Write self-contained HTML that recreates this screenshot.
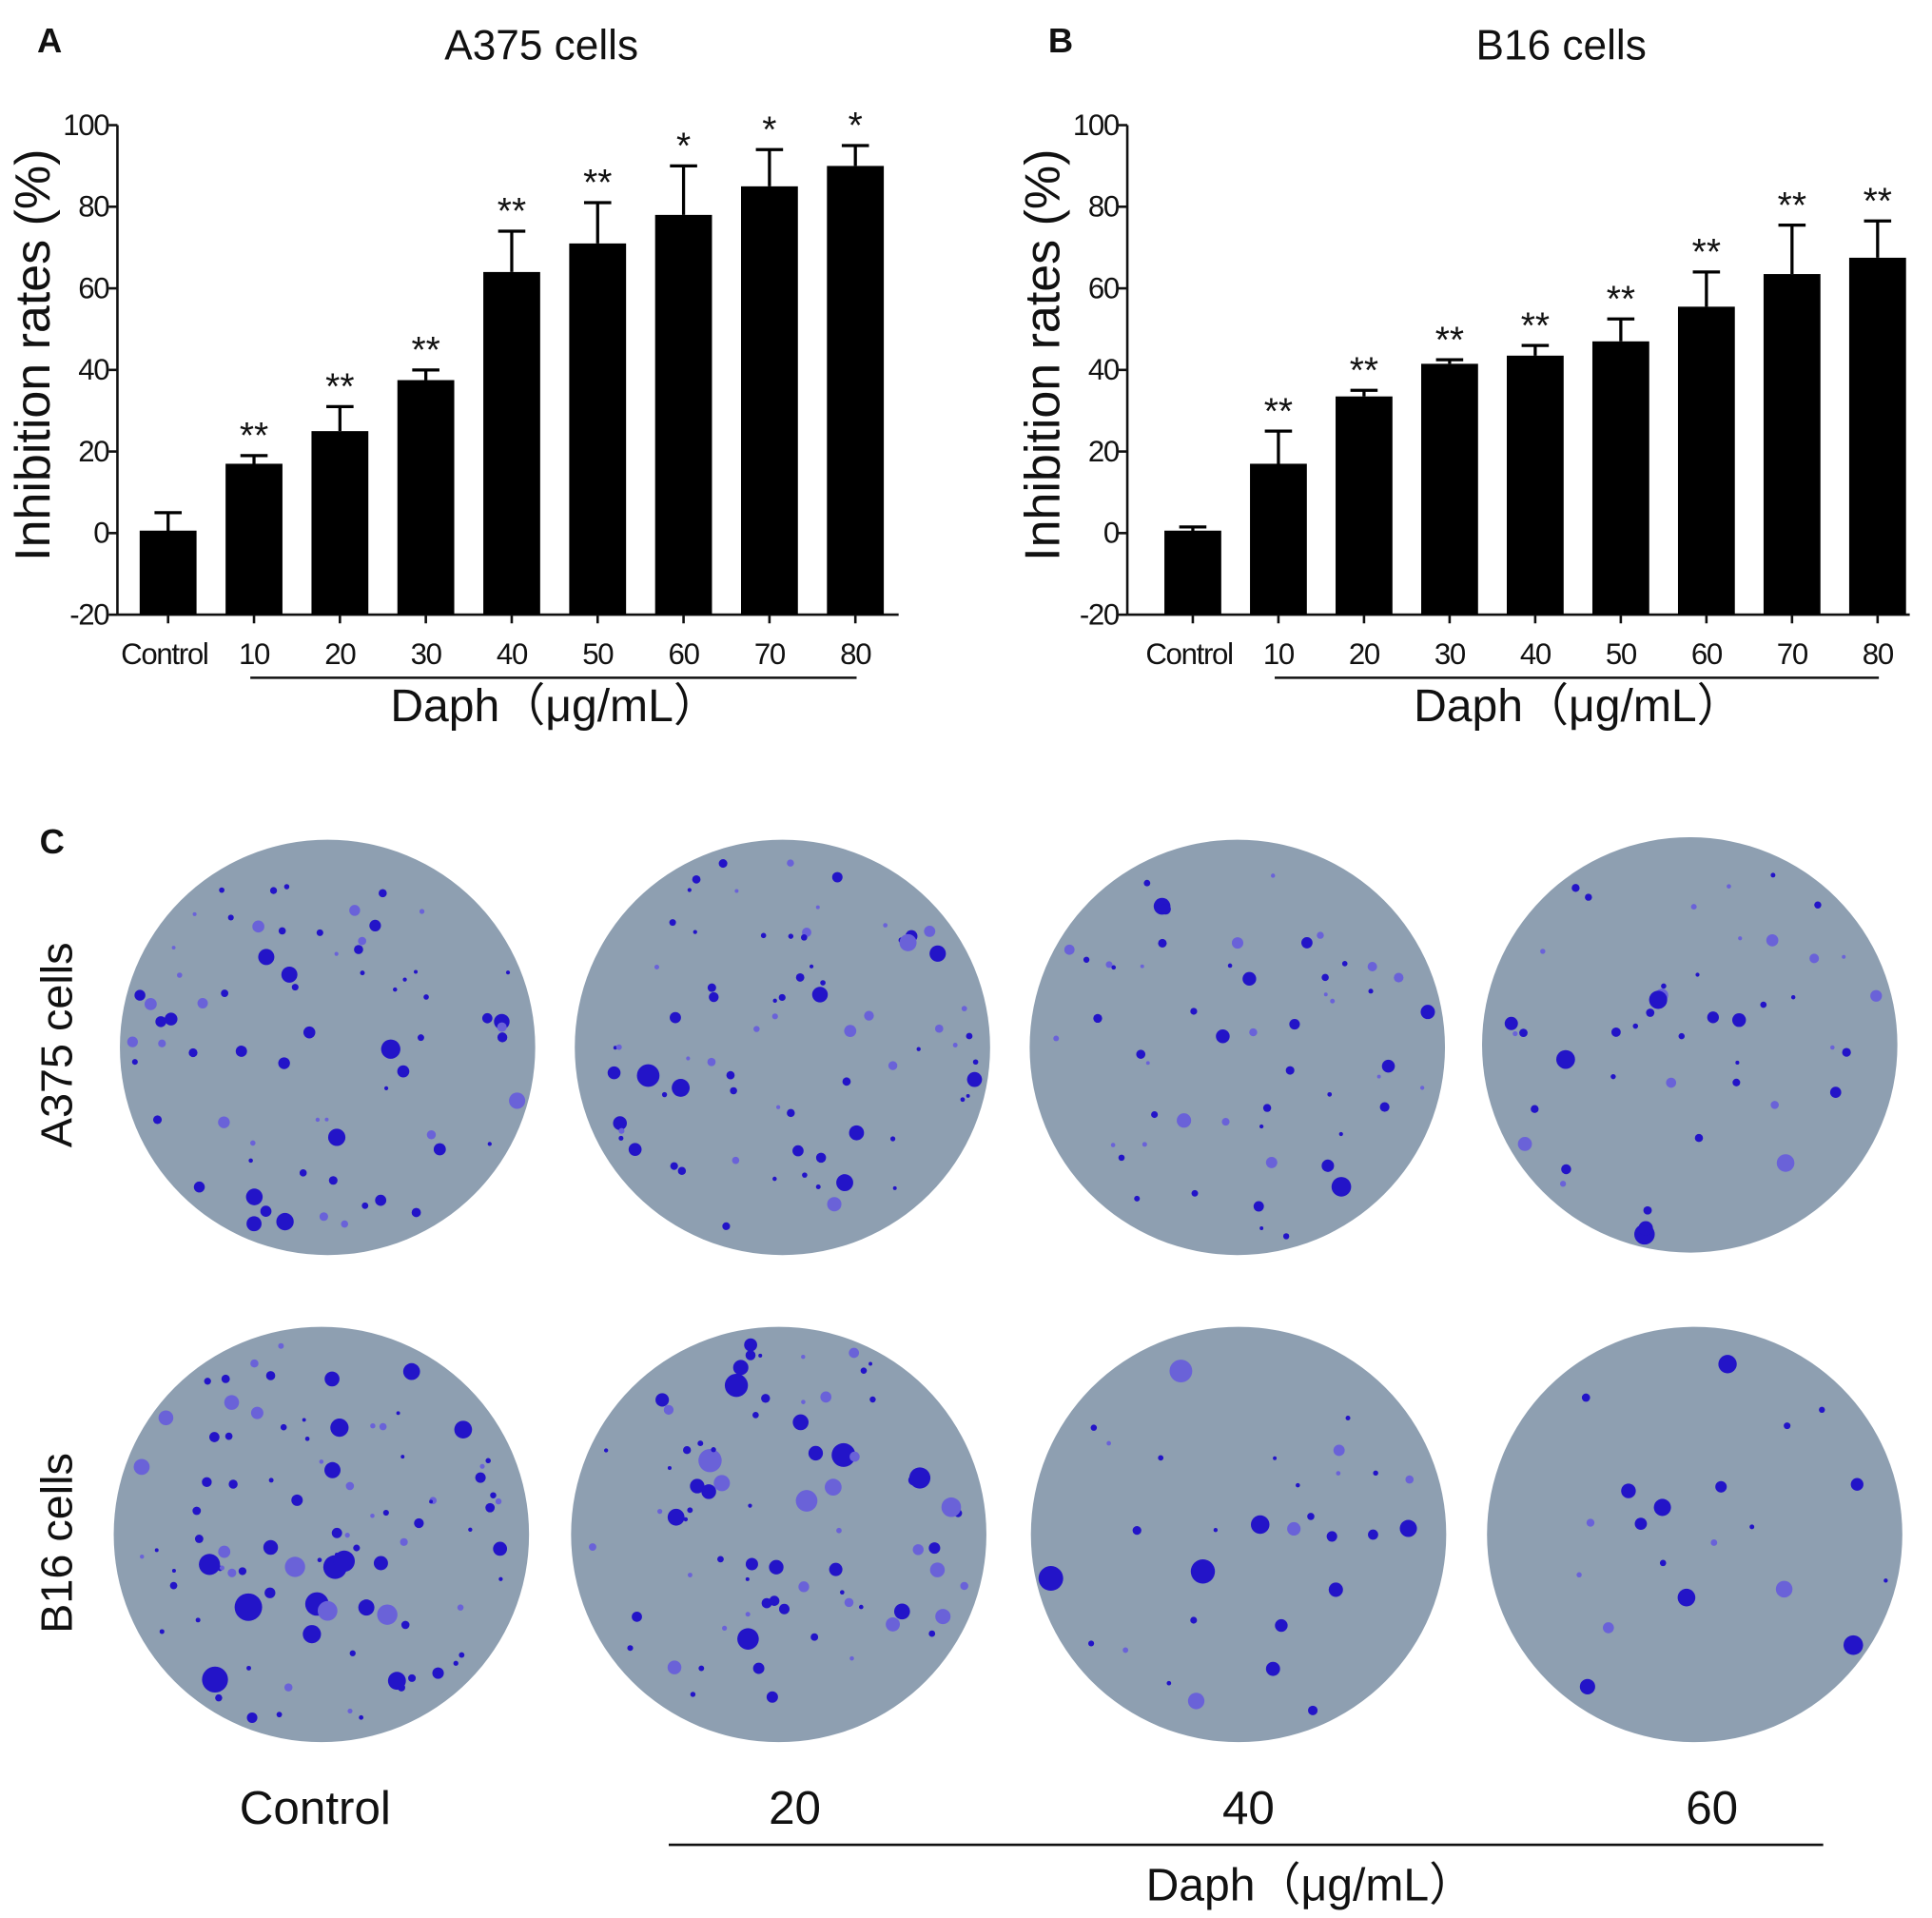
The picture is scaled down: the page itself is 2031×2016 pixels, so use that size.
<!DOCTYPE html>
<html><head><meta charset="utf-8"><style>
html,body{margin:0;padding:0;background:#fff}
svg{display:block}
text{font-family:"Liberation Sans","Noto Sans CJK SC",sans-serif;fill:#111}
</style></head><body>
<svg id="fig" width="2031" height="2016" viewBox="0 0 1563 1551">
<g id="gA"></g>
<g id="gB"></g>
<g id="gC"></g>
</svg>
<script>
const categories = ["Control","10","20","30","40","50","60","70","80"];
const a375Values = [0,17,25,37.5,64,71,78,85,90];
const a375ErrTop = [5,19,31,40,74,81,90,94,95];
const a375Stars = ["","**","**","**","**","**","*","*","*"];
const b16Values = [0,17,33.5,41.5,43.5,47,55.5,63.5,67.5];
const b16ErrTop = [1.5,25,35,42.5,46,52.5,64,75.5,76.5];
const b16Stars = ["","**","**","**","**","**","**","**","**"];
const yTicks = [-20,0,20,40,60,80,100];
const dishLabels = ["Control","20","40","60"];
const colonyCounts = [[70,75,55,45],[95,75,30,20]];

const NS="http://www.w3.org/2000/svg";
function mk(parent,tag,attrs,txt){const e=document.createElementNS(NS,tag);for(const k in attrs)e.setAttribute(k,attrs[k]);if(txt!==undefined)e.textContent=txt;parent.appendChild(e);return e;}

function drawChart(gid,x0,x1,firstCenter,step,vals,errs,stars,title,letter,letterX,titleX){
  const g=document.getElementById(gid);
  const yTop=101,yBot=497;
  const y=v=>yBot-(v+20)/120*(yBot-yTop);
  const x=i=>firstCenter+i*step;
  let t=mk(g,'text',{x:letterX,y:42,'font-size':28,'font-weight':'bold'},letter);
  
  t=mk(g,'text',{x:titleX,y:48,'font-size':34,'text-anchor':'middle'},title);
  
  t=mk(g,'text',{x:0,y:0,'font-size':40,'text-anchor':'middle',transform:`translate(${x0-55},${yTop+186}) rotate(-90)`},'Inhibition rates (%)');
  
  let l=mk(g,'line',{x1:x0,y1:yTop,x2:x0,y2:yBot,stroke:'#111','stroke-width':2});
  
  l=mk(g,'line',{x1:x0,y1:yBot,x2:x1,y2:yBot,stroke:'#111','stroke-width':2});
  
  yTicks.forEach(v=>{
    mk(g,'line',{x1:x0-7,y1:y(v),x2:x0,y2:y(v),stroke:'#111','stroke-width':2});
    const tt=mk(g,'text',{x:x0-7,y:y(v)+8,'font-size':24,'text-anchor':'end','letter-spacing':'-1'},String(v));
    
  });
  vals.forEach((v,i)=>{
    const cx=x(i),w=46;
    const top=Math.min(y(v),y(0));
    const b=mk(g,'rect',{x:cx-w/2,y:v===0?y(0)-2:top,width:w,height:v===0?yBot-y(0)+2:yBot-top,fill:'#000'});
    
    const e=mk(g,'path',{d:`M${cx},${y(v)}V${y(errs[i])}M${cx-11},${y(errs[i])}H${cx+11}`,stroke:'#000','stroke-width':2.5,fill:'none'});
    
    if(stars[i]){const s=mk(g,'text',{x:cx,y:y(errs[i])-6,'font-size':30,'text-anchor':'middle'},stars[i]);
      }
    mk(g,'line',{x1:cx,y1:yBot,x2:cx,y2:yBot+7,stroke:'#111','stroke-width':2});
    const lx=i===0?cx-3:cx;
    const tl=mk(g,'text',{x:lx,y:537,'font-size':24,'text-anchor':'middle','letter-spacing':'-1'},categories[i]);
    
  });
  l=mk(g,'line',{x1:x(1)-3,y1:548,x2:x(8)+1,y2:548,stroke:'#111','stroke-width':2});
  
  t=mk(g,'text',{x:(x(1)+x(8))/2,y:583,'font-size':37,'text-anchor':'middle'},'Daph（μg/mL）');
  
}
drawChart('gA',95,727,136,69.5,a375Values,a375ErrTop,a375Stars,'A375 cells','A',30,438);
drawChart('gB',912,1545,965,69.25,b16Values,b16ErrTop,b16Stars,'B16 cells','B',848,1263);

// Panel C
const gC=document.getElementById('gC');
let t=mk(gC,'text',{x:32,y:690,'font-size':28,'font-weight':'bold'},'C');

const centers=[[[265,847],[633,847],[1001,847],[1367,845]],[[260,1241],[630,1241],[1002,1241],[1371,1241]]];
let seed=12345;function rnd(){seed=(seed*1103515245+12345)%2147483648;return seed/2147483648;}
["A375 cells","B16 cells"].forEach((lab,r)=>{
  const tt=mk(gC,'text',{x:0,y:0,'font-size':36,'text-anchor':'middle',transform:`translate(${58},${r?1248:845}) rotate(-90)`},lab);
  
  centers[r].forEach((c,i)=>{
    const d=mk(gC,'circle',{cx:c[0],cy:c[1],r:168,fill:'#8e9fb1'});
    
    const n=colonyCounts[r][i];
    for(let k=0;k<n;k++){
      const a=rnd()*Math.PI*2,rr=Math.sqrt(rnd())*160;
      const s=1.5+rnd()*rnd()*(r?10:8);
      const dot=mk(gC,'circle',{cx:c[0]+Math.cos(a)*rr,cy:c[1]+Math.sin(a)*rr,r:s,fill:rnd()<0.3?'#6a62d8':'#2314c8'});
      
    }
  });
});
const bx=[255,643,1010,1385];
dishLabels.forEach((d,i)=>{const tt=mk(gC,'text',{x:bx[i],y:1475,'font-size':38,'text-anchor':'middle'},d);
  });
let l=mk(gC,'line',{x1:541,y1:1492,x2:1475,y2:1492,stroke:'#111','stroke-width':2});

t=mk(gC,'text',{x:1060,y:1537,'font-size':37,'text-anchor':'middle'},'Daph（μg/mL）');

</script>
</body></html>
